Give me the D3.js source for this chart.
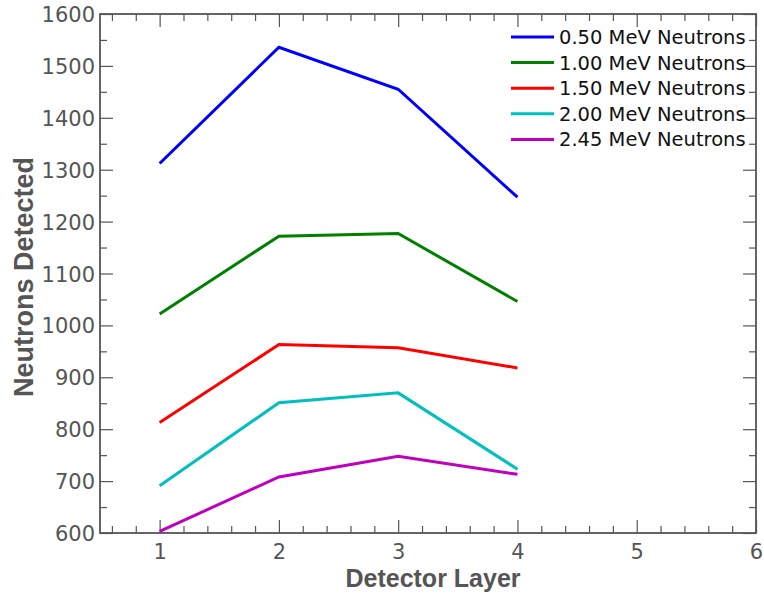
<!DOCTYPE html>
<html><head><meta charset="utf-8">
<script src="https://cdn.jsdelivr.net/npm/d3@7"></script>
<style>body{margin:0;background:#fff;}</style>
</head><body>
<svg id="c" width="764" height="596"></svg>
<script>
const layers = [1, 2, 3, 4];
const seriesNames = ["0.50 MeV Neutrons","1.00 MeV Neutrons","1.50 MeV Neutrons","2.00 MeV Neutrons","2.45 MeV Neutrons"];
const seriesColors = ["#0000ff","#008000","#ff0000","#00bfbf","#bf00bf"];
const s050 = [1312, 1536, 1455, 1247];
const s100 = [1022, 1172, 1177, 1046];
const s150 = [813, 963, 957, 918];
const s200 = [691, 851, 870, 723];
const s245 = [603, 708, 748, 713];
const seriesValues = [s050, s100, s150, s200, s245];
const xTicks = [1,2,3,4,5,6];
const yTicks = [600,700,800,900,1000,1100,1200,1300,1400,1500,1600];

const svg = d3.select("#c");
const L=100, R=756, T=14, B=533;
const x = d3.scaleLinear().domain([0.5,6]).range([L,R]);
const y = d3.scaleLinear().domain([600,1600]).range([B,T]);
const axisColor = "#555";
const font = "DejaVu Sans, sans-serif";

const xMinor = d3.range(0.6, 6.0001, 0.2).map(v=>+v.toFixed(2)).filter(v=>Math.abs(v-Math.round(v))>1e-6);
const yMinor = d3.range(650, 1600, 100);

function tickAxis(axisGen, transform, major, minor, label) {
  const g = svg.append("g").attr("transform", transform);
  g.call(axisGen.tickValues(major).tickSizeInner(-13).tickSizeOuter(0).tickFormat(label ? d3.format("d") : ""));
  g.select(".domain").remove();
  g.selectAll(".tick line").attr("stroke", axisColor).attr("stroke-width", 1.2);
  g.selectAll(".tick text").attr("fill", axisColor).attr("font-family", font).attr("font-size", 21);
  const g2 = svg.append("g").attr("transform", transform);
  g2.call(axisGen.tickValues(minor).tickSizeInner(-7).tickSizeOuter(0).tickFormat(""));
  g2.select(".domain").remove();
  g2.selectAll(".tick line").attr("stroke", axisColor).attr("stroke-width", 1.2);
  return g;
}
const gx = tickAxis(d3.axisBottom(x), `translate(0,${B})`, xTicks, xMinor, true);
gx.selectAll(".tick text").attr("y", 11).attr("dy", "0.71em");
tickAxis(d3.axisTop(x), `translate(0,${T})`, xTicks, xMinor, false);
const gy = tickAxis(d3.axisLeft(y), `translate(${L},0)`, yTicks, yMinor, true);
gy.selectAll(".tick text").attr("x", -5).attr("dy", "0.36em");
tickAxis(d3.axisRight(y), `translate(${R},0)`, yTicks, yMinor, false);

svg.append("rect").attr("x",L).attr("y",T).attr("width",R-L).attr("height",B-T)
  .attr("fill","none").attr("stroke",axisColor).attr("stroke-width",1.8);

const line = d3.line().x((d,i)=>x(layers[i])).y(d=>y(d));
seriesValues.forEach((vals,k)=>{
  svg.append("path").datum(vals).attr("d", line).attr("fill","none")
    .attr("stroke", seriesColors[k]).attr("stroke-width", 3);
});

const lg = svg.append("g");
seriesNames.forEach((n,k)=>{
  const yy = 37 + k*25.6;
  lg.append("line").attr("x1",511).attr("x2",554).attr("y1",yy).attr("y2",yy)
    .attr("stroke", seriesColors[k]).attr("stroke-width",3);
  lg.append("text").attr("x",559).attr("y",yy).attr("dy","0.36em")
    .attr("font-family",font).attr("font-size",19.5).attr("fill","#111").text(n);
});

svg.append("text").attr("x",433).attr("y",587).attr("text-anchor","middle")
  .attr("font-family","Liberation Sans, Arial, sans-serif").attr("font-weight","bold")
  .attr("font-size",25).attr("fill",axisColor).text("Detector Layer");
svg.append("text").attr("transform","translate(33,277) rotate(-90)").attr("text-anchor","middle")
  .attr("font-family","Liberation Sans, Arial, sans-serif").attr("font-weight","bold")
  .attr("font-size",27).attr("fill",axisColor).text("Neutrons Detected");
</script>
</body></html>
